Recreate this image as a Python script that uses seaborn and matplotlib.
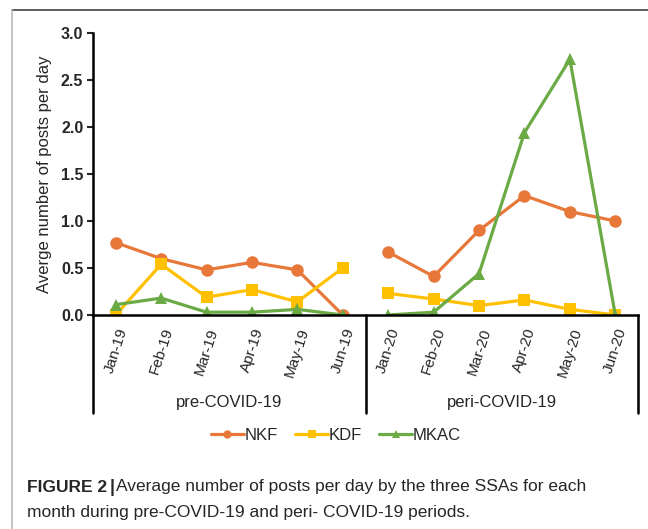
import numpy as np
import pandas as pd
import seaborn as sns
import matplotlib
matplotlib.use("Agg")
from matplotlib import pyplot as plt
from matplotlib.lines import Line2D
import matplotlib.transforms as mtransforms

# data
months = ['Jan-19', 'Feb-19', 'Mar-19', 'Apr-19', 'May-19', 'Jun-19',
          'Jan-20', 'Feb-20', 'Mar-20', 'Apr-20', 'May-20', 'Jun-20']
periods = ['pre-COVID-19'] * 6 + ['peri-COVID-19'] * 6
nkf = [0.77, 0.60, 0.48, 0.56, 0.48, 0.00, 0.67, 0.41, 0.90, 1.27, 1.10, 1.00]
kdf = [0.00, 0.54, 0.19, 0.27, 0.14, 0.50, 0.23, 0.17, 0.10, 0.16, 0.06, 0.00]
mkac = [0.11, 0.18, 0.03, 0.03, 0.06, 0.00, 0.00, 0.03, 0.44, 1.94, 2.72, 0.00]
series = {'NKF': nkf, 'KDF': kdf, 'MKAC': mkac}
colors = {'NKF': '#E8773A', 'KDF': '#FFC000', 'MKAC': '#6BAA45'}

rows = []
for name, vals in series.items():
  for i, v in enumerate(vals):
    rows.append({'ssa': name, 'pos': i, 'month': months[i], 'period': periods[i], 'value': v})
df = pd.DataFrame(rows)

sns.set_style('white')
plt.rcParams['font.family'] = ['Liberation Sans', 'DejaVu Sans']

fig = plt.figure(figsize=(6.48, 5.29), dpi=100)
ax = fig.add_axes([93/648, 1-315/529, (638-93)/648, (315-33)/529])

sns.lineplot(data=df, x='pos', y='value', hue='ssa', style='ssa', units='period',
             estimator=None, markers={'NKF': 'o', 'KDF': 's', 'MKAC': '^'}, dashes=False,
             palette=colors, linewidth=2.3, markersize=9, markeredgewidth=0,
             ax=ax, legend=False, sort=False)

ax.set_xlim(-0.5, len(months) - 0.5)
ax.set_ylim(0, 3.0)
ax.set_yticks(np.arange(0, 3.01, 0.5))
ax.set_yticklabels([f'{v:.1f}' for v in np.arange(0, 3.01, 0.5)], fontweight='bold', fontsize=11.5)
ax.set_xticks(range(len(months)))
ax.set_xticklabels(months, rotation=72, fontsize=11, ha='center', va='top')
ax.tick_params(axis='x', length=0, pad=8)
ax.tick_params(axis='y', length=4, width=1.5, direction='out', left=True, pad=3)
ax.set_xlabel('')
ax.set_ylabel('Averge number of posts per day', fontsize=12, labelpad=6)
for s in ['top', 'right']:
  ax.spines[s].set_visible(False)
for s in ['left', 'bottom']:
  ax.spines[s].set_linewidth(1.8)
  ax.spines[s].set_color('black')

# category group lines and labels below the axis
trans = mtransforms.blended_transform_factory(ax.transData, ax.transAxes)
for xb in [-0.5, 5.5, 11.5]:
  ax.plot([xb, xb], [0, -0.3475], color='black', lw=1.8, transform=trans, clip_on=False)
ax.text(2.5, -0.312, 'pre-COVID-19', transform=trans, ha='center', va='center', fontsize=12)
ax.text(8.5, -0.312, 'peri-COVID-19', transform=trans, ha='center', va='center', fontsize=12)

handles = [Line2D([], [], color=colors[k], marker=m, lw=2.3, markersize=6, markeredgewidth=0)
           for k, m in zip(series, ['o', 's', '^'])]
fig.legend(handles, list(series), loc='center', bbox_to_anchor=(336/648, 1-435/529), ncol=3,
           frameon=False, fontsize=12, handlelength=2.0, handletextpad=0.05, columnspacing=1.0)

# figure frame
fig.add_artist(Line2D([12/648, 1], [1-10/529, 1-10/529], color='#444444', lw=1.2))
fig.add_artist(Line2D([12/648, 12/648], [0, 1-10/529], color='#bbbbbb', lw=1.2))

# caption
cap_font = ['Liberation Sans', 'DejaVu Sans']
t1 = fig.text(27/648, 1-487/529, 'FIGURE 2', fontweight='bold', fontsize=12.5,
              family=cap_font, va='center')
ann = fig.add_artist(matplotlib.text.Annotation(
  '|', xy=(1, 0.5), xycoords=t1, xytext=(2, 0), textcoords='offset points',
  fontsize=13, fontweight='bold', va='center', family=cap_font))
fig.add_artist(matplotlib.text.Annotation(
  'Average number of posts per day by the three SSAs for each', xy=(1, 0.5), xycoords=ann,
  xytext=(1, 0), textcoords='offset points', fontsize=12.5, va='center', family=cap_font))
fig.text(27/648, 1-512/529, 'month during pre-COVID-19 and peri- COVID-19 periods.',
         fontsize=12.5, family=cap_font, va='center')

fig.savefig('out.png', dpi=100)
